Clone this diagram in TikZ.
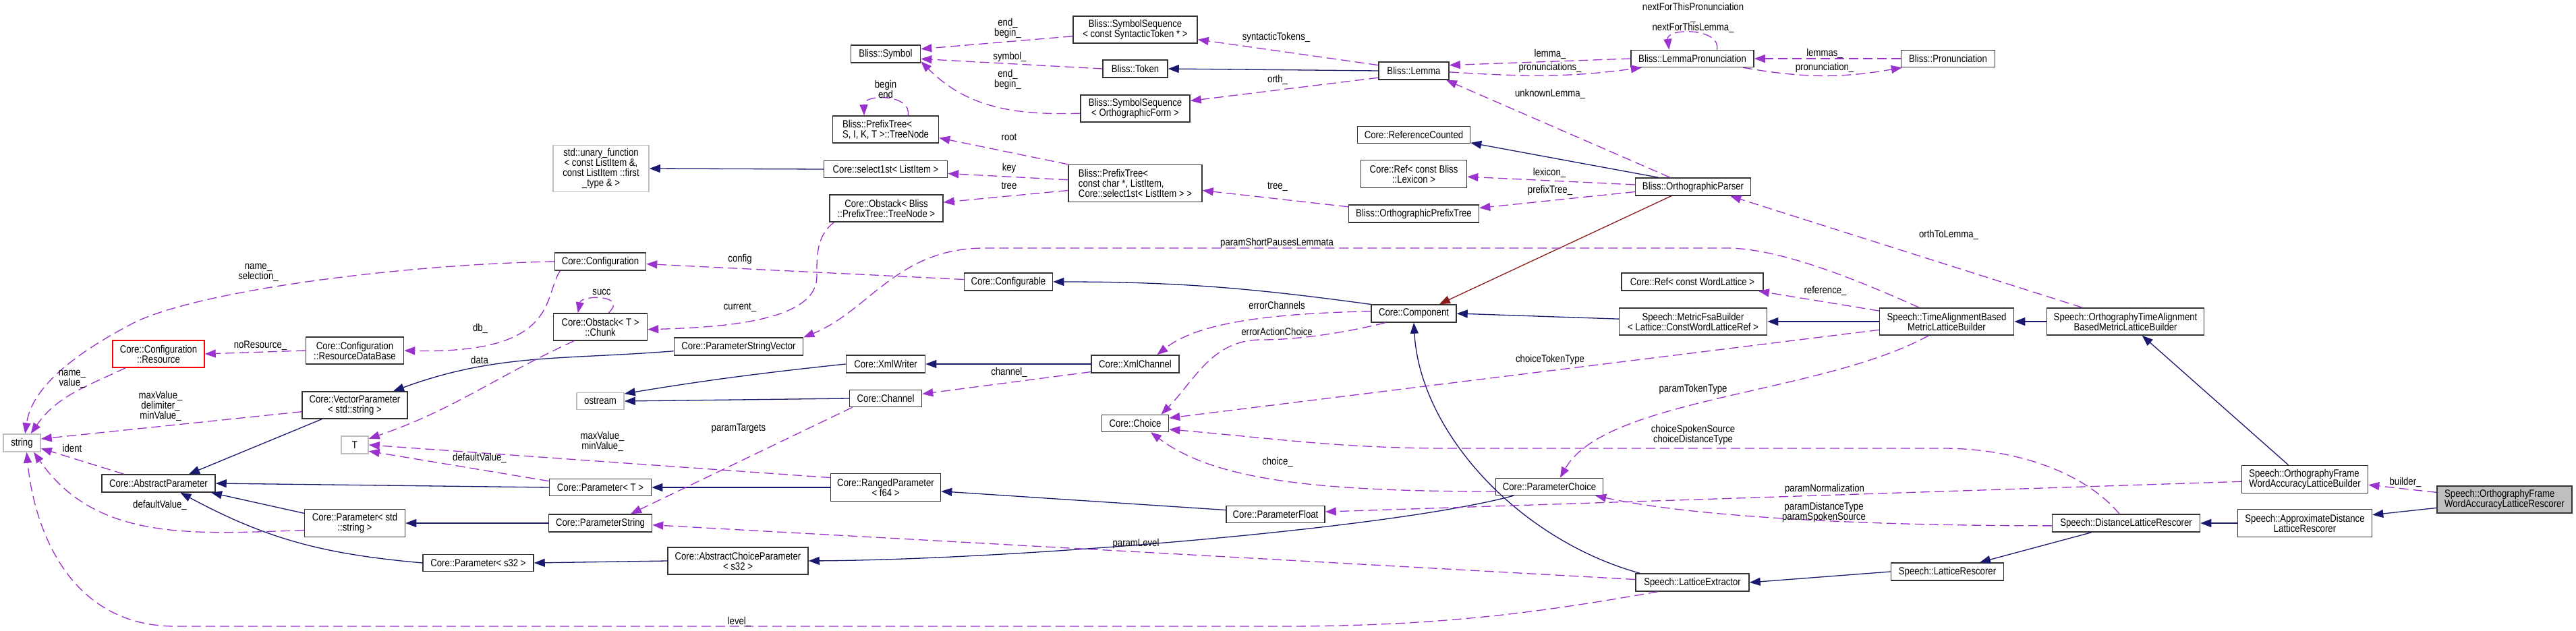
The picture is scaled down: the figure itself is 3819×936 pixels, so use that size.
\documentclass[tikz,border=0pt]{standalone}
\usepackage{fontspec}
\setmainfont{Liberation Sans}[FakeStretch=0.85]
\usetikzlibrary{arrows.meta, positioning}
\definecolor{edgeblue}{HTML}{191970}
\definecolor{edgeviolet}{HTML}{9A32CD}
\definecolor{edgered}{HTML}{8B1A1A}
\definecolor{grey75}{HTML}{BFBFBF}
\tikzset{
  cls/.style={rectangle, draw=black!80, line width=1.5pt, fill=white, align=center,
    font=\fontsize{15.5}{15}\selectfont, inner sep=0pt, minimum height=26pt},
  extcls/.style={cls, draw=grey75},          % external / undocumented class
  trunc/.style ={cls, draw=red},             % truncated class
  root/.style  ={cls, fill=grey75},          % class the graph is about
  lbl/.style   ={align=center, font=\fontsize{15.5}{15}\selectfont, inner sep=0pt},
  inherit/.style    ={-{Triangle[length=16pt,width=12pt]}, draw=edgeblue, line width=1.3pt},
  protinherit/.style={inherit, draw=edgered},
  usage/.style      ={-{Triangle[length=16pt,width=12pt]}, draw=edgeviolet, line width=1.3pt,
                      dash pattern=on 14pt off 7pt},
}
\begin{document}
\begin{tikzpicture}[x=1pt, y=-1pt]
\fill[white] (0,0) rectangle (3819,936);
\useasboundingbox (0,0) rectangle (3819,936);

% ---- parameters and strings ----
\node[extcls, minimum width=55]  (str)    at (32.5,657) {string};
\node[trunc,  minimum width=136, minimum height=40] (res) at (235,525) {Core::Configuration\\::Resource};
\node[cls,    minimum width=145, minimum height=40] (resdb) at (526,520) {Core::Configuration\\::ResourceDataBase};
\node[cls,    minimum width=156, minimum height=40] (vecpar) at (526,601) {Core::VectorParameter\\< std::string >};
\node[extcls, minimum width=40]  (tparam) at (526,660) {T};
\node[cls,    minimum width=168] (abspar) at (235,717) {Core::AbstractParameter};
\node[cls,    minimum width=149, minimum height=41] (parstr) at (526,776) {Core::Parameter< std\\::string >};
\node[cls,    minimum width=164, minimum height=25] (pars32) at (709,835) {Core::Parameter< s32 >};
\node[extcls, minimum width=142, minimum height=69] (unary) at (891,250) {std::unary\_function\\< const ListItem \&,\\ const ListItem ::first\\\_type \& >};
\node[cls,    minimum width=135] (config) at (890,388) {Core::Configuration};
\node[cls,    minimum width=139, minimum height=40] (chunk) at (890,485) {Core::Obstack< T >\\::Chunk};
\node[cls,    minimum width=191] (psvec) at (1095,514) {Core::ParameterStringVector};
\node[extcls, minimum width=70, minimum height=25] (ostr) at (890,595) {ostream};
\node[cls,    minimum width=151, minimum height=25] (part) at (890,723) {Core::Parameter< T >};
\node[cls,    minimum width=153] (pstring) at (890,776) {Core::ParameterString};
\node[cls,    minimum width=208, minimum height=40] (abschoice) at (1094,832) {Core::AbstractChoiceParameter\\< s32 >};

% ---- bliss / core middle ----
\node[cls, minimum width=103] (symbol) at (1313,80) {Bliss::Symbol};
\node[cls, minimum width=157, minimum height=40, align=left] (treenode) at (1313,192) {Bliss::PrefixTree<\\ S, I, K, T >::TreeNode};
\node[cls, minimum width=183, minimum height=25] (sel1st) at (1313,251) {Core::select1st< ListItem >};
\node[cls, minimum width=168, minimum height=40] (obstack) at (1314,309) {Core::Obstack< Bliss\\::PrefixTree::TreeNode >};
\node[cls, minimum width=117] (xmlw) at (1313,540) {Core::XmlWriter};
\node[cls, minimum width=107, minimum height=25] (chan) at (1313,591) {Core::Channel};
\node[cls, minimum width=163, minimum height=41] (ranged) at (1313,723) {Core::RangedParameter\\< f64 >};
\node[cls, minimum width=184, minimum height=40] (seqsyn) at (1683,44) {Bliss::SymbolSequence\\< const SyntacticToken * >};
\node[cls, minimum width=96] (token) at (1683,102) {Bliss::Token};
\node[cls, minimum width=162, minimum height=40] (seqorth) at (1683,161) {Bliss::SymbolSequence\\< OrthographicForm >};
\node[cls, minimum width=198, minimum height=55, align=left] (ptree) at (1683,272) {Bliss::PrefixTree<\\ const char *, ListItem,\\ Core::select1st< ListItem > >};
\node[cls, minimum width=131] (cfgbl) at (1495,418) {Core::Configurable};
\node[cls, minimum width=130] (xmlch) at (1683,540) {Core::XmlChannel};
\node[cls, minimum width=99, minimum height=25] (choice) at (1683,628) {Core::Choice};
\node[cls, minimum width=146, minimum height=25] (pfloat) at (1891,763) {Core::ParameterFloat};
\node[cls, minimum width=104] (lemma) at (2096,105) {Bliss::Lemma};
\node[cls, minimum width=167, minimum height=25] (refcnt) at (2096,200) {Core::ReferenceCounted};
\node[cls, minimum width=157, minimum height=41] (reflex) at (2096,258) {Core::Ref< const Bliss\\::Lexicon >};
\node[cls, minimum width=193] (optree) at (2096,317) {Bliss::OrthographicPrefixTree};
\node[cls, minimum width=126] (comp) at (2096,465) {Core::Component};
\node[cls, minimum width=159, minimum height=25] (pchoice) at (2297,722) {Core::ParameterChoice};

% ---- speech side ----
\node[cls, minimum width=182, minimum height=25] (lpron) at (2509,87) {Bliss::LemmaPronunciation};
\node[cls, minimum width=171] (oparser) at (2510,277) {Bliss::OrthographicParser};
\node[cls, minimum width=210] (refwl) at (2509,418) {Core::Ref< const WordLattice >};
\node[cls, minimum width=219, minimum height=40] (mfsa) at (2510,477) {Speech::MetricFsaBuilder\\< Lattice::ConstWordLatticeRef >};
\node[cls, minimum width=168] (lext) at (2509,864) {Speech::LatticeExtractor};
\node[cls, minimum width=139, minimum height=25] (pron) at (2888,87) {Bliss::Pronunciation};
\node[cls, minimum width=199, minimum height=40] (talign) at (2886,477) {Speech::TimeAlignmentBased\\MetricLatticeBuilder};
\node[cls, minimum width=167] (lresc) at (2887,848) {Speech::LatticeRescorer};
\node[cls, minimum width=233, minimum height=40] (otalign) at (3151,477) {Speech::OrthographyTimeAlignment\\BasedMetricLatticeBuilder};
\node[cls, minimum width=219] (dresc) at (3152,776) {Speech::DistanceLatticeRescorer};
\node[cls, minimum width=187, minimum height=41, align=left] (ofbuild) at (3417,711) {Speech::OrthographyFrame\\WordAccuracyLatticeBuilder};
\node[cls, minimum width=199, minimum height=41] (apxresc) at (3417,776) {Speech::ApproximateDistance\\LatticeRescorer};
\node[root, minimum width=200, minimum height=40, align=left] (resc) at (3713,741) {Speech::OrthographyFrame\\WordAccuracyLatticeRescorer};

% ---- inheritance ----
\draw[inherit] (resc.187) -- (apxresc.7);
\draw[inherit] (apxresc.west) -- (dresc.east);
\draw[inherit] (dresc.195) -- (lresc.16);
\draw[inherit] (lresc.west) -- (lext.east);
\draw[inherit] (lext.170) .. controls (2250,800) and (2105,640) .. (comp.south);
\draw[inherit] (ofbuild.139) -- (otalign.-40);
\draw[inherit] (otalign.west) -- (talign.east);
\draw[inherit] (talign.west) -- (mfsa.east);
\draw[inherit] (mfsa.178) -- (comp.east);
\draw[inherit] (oparser.165) -- (refcnt.-8);
\draw[protinherit] (oparser.203) -- (comp.20);
\draw[inherit] (comp.168) .. controls (1860,428) and (1750,418) .. (cfgbl.east);
\draw[inherit] (lemma.west) -- (token.east);
\draw[inherit] (sel1st.west) -- (unary.east);
\draw[inherit] (xmlch.west) -- (xmlw.east);
\draw[inherit] (xmlw.west) .. controls (1130,553) and (1040,565) .. (ostr.17);
\draw[inherit] (chan.west) -- (ostr.east);
\draw[inherit] (psvec.184) .. controls (834,534) and (736,524) .. (vecpar.20);
\draw[inherit] (vecpar.203) -- (abspar.17);
\draw[inherit] (part.west) -- (abspar.east);
\draw[inherit] (parstr.169) -- (abspar.-10);
\draw[inherit] (pars32.west) .. controls (480,822) and (396,800) .. (abspar.-23);
\draw[inherit] (pstring.west) -- (parstr.east);
\draw[inherit] (abschoice.west) -- (pars32.east);
\draw[inherit] (pchoice.194) .. controls (2060,785) and (1500,830) .. (abschoice.east);
\draw[inherit] (pfloat.175) -- (ranged.-4);
\draw[inherit] (ranged.west) -- (part.east);

% ---- usage (members) ----
\draw[usage] (resc.174) -- (ofbuild.-5);
\draw[usage] (ofbuild.182) -- (pfloat.3);
\draw[usage] (dresc.182) .. controls (2780,780) and (2517,768) .. (pchoice.-11);
\draw[usage] (dresc.126) .. controls (3090,700) and (2987,665) .. (2880,665) -- (2150,665)
  .. controls (1986,665) and (1896,651) .. (choice.-10);
\draw[usage] (talign.187) -- (choice.9);
\draw[usage] (pchoice.185) .. controls (1950,729) and (1800,712) .. (choice.-30);
\draw[usage] (comp.198) .. controls (2000,492) and (1930,504) .. (1870,504)
  .. controls (1797,504) and (1772,563) .. (choice.19);
\draw[usage] (talign.218) .. controls (2700,585) and (2380,590) .. (pchoice.40);
\draw[usage] (talign.171) -- (refwl.-8);
\draw[usage] (talign.153) .. controls (2760,418) and (2640,368) .. (2560,368) -- (1460,368)
  .. controls (1330,368) and (1290,460) .. (psvec.8);
\draw[usage] (comp.177) .. controls (1900,465) and (1780,475) .. (xmlch.23);
\draw[usage] (cfgbl.177) -- (config.-3);
\draw[usage] (config.193) .. controls (805,440) and (830,525) .. (resdb.east);
\draw[usage] (config.west) .. controls (600,392) and (300,430) .. (200,478)
  .. controls (80,540) and (45,590) .. (str.71);
\draw[usage] (resdb.west) -- (res.east);
\draw[usage] (res.203) .. controls (126,574) and (84,588) .. (str.46);
\draw[usage] (vecpar.187) -- (str.12);
\draw[usage] (abspar.165) -- (str.-16);
\draw[usage] (parstr.188) .. controls (287,792) and (143,804) .. (str.-38);
\draw[usage] (lext.195) .. controls (2300,905) and (2150,929) .. (1900,929) -- (260,929)
  .. controls (100,929) and (50,780) .. (str.-63);
\draw[usage] (lext.177) -- (pstring.-2);
\draw[usage] (chan.195) -- (pstring.17);
\draw[usage] (xmlch.190) -- (chan.7);
\draw[usage] (ranged.170) -- (tparam.east);
\draw[usage] (part.173) -- (tparam.-24);
\draw[usage] (chunk.208) .. controls (731,561) and (672,608) .. (tparam.24);
\draw[usage] (chunk.60) .. controls (932,437) and (862,437) .. (chunk.148);
\draw[usage] (obstack.195) .. controls (1210,350) and (1211,380) .. (1211,410)
  .. controls (1211,470) and (1100,485) .. (chunk.-3);
\draw[usage] (ptree.north west) -- (treenode.-9);
\draw[usage] (ptree.177) -- (sel1st.-4);
\draw[usage] (ptree.186) -- (obstack.6);
\draw[usage] (optree.174) -- (ptree.-6);
\draw[usage] (treenode.32) .. controls (1352,139) and (1280,139) .. (treenode.147);
\draw[usage] (token.west) -- (symbol.-8);
\draw[usage] (seqsyn.186) -- (symbol.8);
\draw[usage] (seqorth.185) .. controls (1504,171) and (1434,160) .. (symbol.-12);
\draw[usage] (lemma.171) -- (seqsyn.-9);
\draw[usage] (lemma.191) -- (seqorth.8);
\draw[usage] (lpron.west) -- (lemma.9);
\draw[usage] (lemma.-2) .. controls (2261,114) and (2325,115) .. (lpron.190);
\draw[usage] (lpron.20) .. controls (2552,41) and (2470,41) .. (lpron.159);
\draw[usage] (pron.west) -- (lpron.east);
\draw[usage] (lpron.-10) .. controls (2674,116) and (2730,116) .. (pron.191);
\draw[usage] (oparser.158) -- (lemma.-16);
\draw[usage] (oparser.178) -- (reflex.-3);
\draw[usage] (oparser.185) -- (optree.5);
\draw[usage] (otalign.162) -- (oparser.-14);

% ---- edge labels ----
\node[lbl] (t-builder)  at (3566,715) {builder\_};
\node[lbl] (t-norm)     at (2705,725) {paramNormalization};
\node[lbl] (t-dist)     at (2704,760) {paramDistanceType\\paramSpokenSource};
\node[lbl] (t-spoken)   at (2510,645) {choiceSpokenSource\\choiceDistanceType};
\node[lbl] (t-toktype)  at (2510,577) {paramTokenType};
\node[lbl] (t-chtok)    at (2298,533) {choiceTokenType};
\node[lbl] (t-choice)   at (1894,685) {choice\_};
\node[lbl] (t-erract)   at (1893,492) {errorActionChoice};
\node[lbl] (t-errch)    at (1893,453) {errorChannels};
\node[lbl] (t-plevel)   at (1684,806) {paramLevel};
\node[lbl] (t-level)    at (1096,922) {level\_};
\node[lbl] (t-targets)  at (1095,636) {paramTargets};
\node[lbl] (t-channel)  at (1496,552) {channel\_};
\node[lbl] (t-minmax)   at (893,655)  {maxValue\_\\minValue\_};
\node[lbl] (t-deft)     at (711,679)  {defaultValue\_};
\node[lbl] (t-data)     at (711,534)  {data};
\node[lbl] (t-db)       at (712,487)  {db\_};
\node[lbl] (t-current)  at (1097,456) {current\_};
\node[lbl] (t-succ)     at (892,433)  {succ};
\node[lbl] (t-config)   at (1097,384) {config};
\node[lbl] (t-namesel)  at (383,404)  {name\_\\selection\_};
\node[lbl] (t-nores)    at (386,513)  {noResource\_};
\node[lbl] (t-nameval)  at (107,562)  {name\_\\value\_};
\node[lbl] (t-delim)    at (238,602)  {maxValue\_\\delimiter\_\\minValue\_};
\node[lbl] (t-ident)    at (107,665)  {ident};
\node[lbl] (t-defstr)   at (237,749)  {defaultValue\_};
\node[lbl] (t-pauses)   at (1893,360) {paramShortPausesLemmata};
\node[lbl] (t-tree2)    at (1894,277) {tree\_};
\node[lbl] (t-orth)     at (1894,118) {orth\_};
\node[lbl] (t-synt)     at (1892,55)  {syntacticTokens\_};
\node[lbl] (t-root)     at (1496,204) {root};
\node[lbl] (t-key)      at (1496,249) {key};
\node[lbl] (t-tree)     at (1496,276) {tree};
\node[lbl] (t-begend)   at (1313,132) {begin\\end};
\node[lbl] (t-synseq)   at (1494,42)  {end\_\\begin\_};
\node[lbl] (t-symbol)   at (1497,84)  {symbol\_};
\node[lbl] (t-orthseq)  at (1494,118) {end\_\\begin\_};
\node[lbl] (t-lemma)    at (2298,80)  {lemma\_};
\node[lbl] (t-prons)    at (2298,100) {pronunciations\_};
\node[lbl] (t-unknown)  at (2298,139) {unknownLemma\_};
\node[lbl] (t-lexicon)  at (2297,256) {lexicon\_};
\node[lbl] (t-prefix)   at (2298,282) {prefixTree\_};
\node[lbl] (t-next)     at (2510,26)  {nextForThisPronunciation\\\_\\nextForThisLemma\_};
\node[lbl] (t-lemmas)   at (2705,79)  {lemmas\_};
\node[lbl] (t-pron)     at (2705,100) {pronunciation\_};
\node[lbl] (t-orthlem)  at (2889,348) {orthToLemma\_};
\node[lbl] (t-ref)      at (2706,431) {reference\_};

\end{tikzpicture}
\end{document}
